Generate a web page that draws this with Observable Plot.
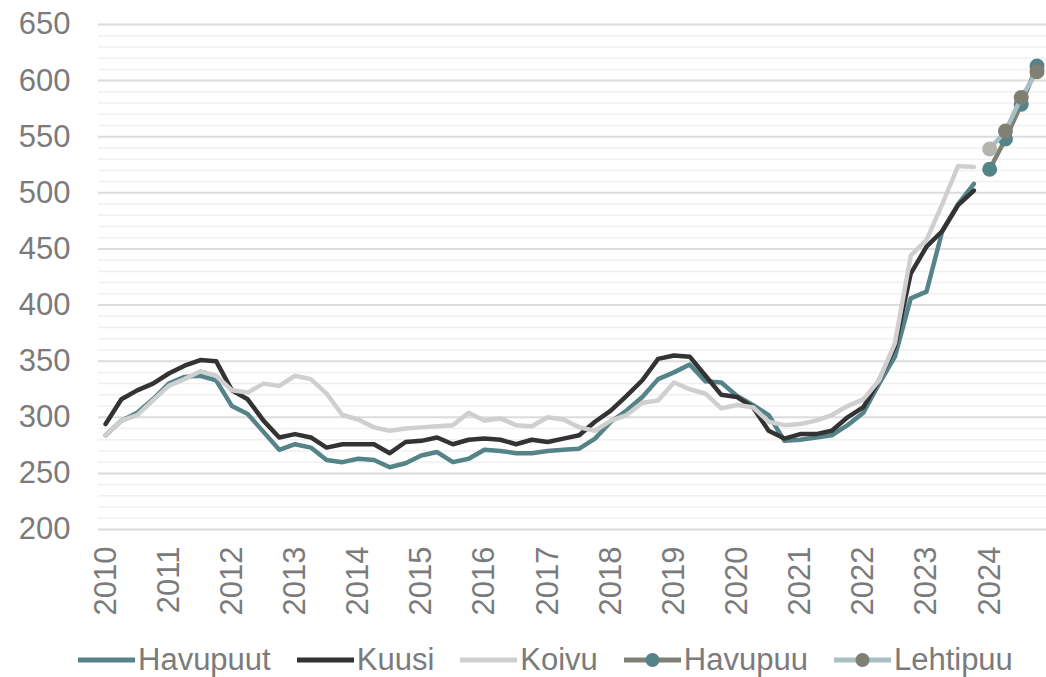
<!DOCTYPE html>
<html>
<head>
<meta charset="utf-8">
<script src="https://cdn.jsdelivr.net/npm/d3@7"></script>
<script src="https://cdn.jsdelivr.net/npm/@observablehq/plot@0.6"></script>
<style>
  body { margin: 0; background: #fff; font-family: "Liberation Sans", Arial, sans-serif; }
  #legend { display: flex; align-items: center; margin-left: 78px; height: 40px; font-size: 31px; color: #7b7b7b; }
  .item { display: flex; align-items: center; margin-right: 26px; }
  .item svg { margin-right: 3px; }
</style>
</head>
<body>
<div id="chart"></div>
<div id="legend"></div>
<script>
// Year tick labels (each at the first quarter of the year)
const years = [2010, 2011, 2012, 2013, 2014, 2015, 2016, 2017, 2018, 2019, 2020, 2021, 2022, 2023, 2024];

// Quarterly series 2010Q1 .. 2023Q4
const havupuut = [284, 297, 304, 316, 330, 336, 337, 333, 310, 303, 287, 271,
  276, 273, 262, 260, 263, 262, 255.5, 259, 266, 269, 260, 263,
  271, 270, 268, 268, 270, 271, 272, 281, 296, 306, 318, 334,
  340, 347, 332, 331, 319, 311, 302, 279, 280, 282, 284, 293,
  304, 330, 354, 406, 412, 466, 490, 508];
const kuusi = [294, 316, 324, 330, 339, 346, 351, 350, 324, 316, 297, 282,
  285, 282, 273, 276, 276, 276, 268, 278, 279, 282, 276, 280,
  281, 280, 276, 280, 278, 281, 284, 296, 306, 319, 333, 352,
  355, 354, 337, 320, 318, 309, 288, 281, 285, 285, 288, 300,
  309, 333, 363, 428, 452, 466, 489, 502];
const koivu = [284, 297, 302, 315, 328, 334, 341, 337, 324, 322, 330, 328,
  337, 334, 321, 302, 298, 291, 288, 290, 291, 292, 293, 304,
  297, 299, 293, 292, 300, 298, 291, 288, 297, 302, 313, 315,
  331, 325, 321, 308, 311, 309, 296, 293, 294, 297, 302, 310,
  316, 333, 366, 444, 458, 490, 524, 523];

// Forecast 2024Q1 .. 2024Q4
const havupuu = [521, 548, 579, 613];
const lehtipuu = [539, 555, 585, 608];

const majorTicks = [200, 250, 300, 350, 400, 450, 500, 550, 600, 650];
const minorTicks = d3.range(200, 651, 10).filter(v => v % 50 !== 0);

const toRows = (arr, start) => arr.map((v, i) => ({t: start + i, v}));
const hHist = toRows(havupuut, 0), kHist = toRows(kuusi, 0), bHist = toRows(koivu, 0);
const hFc = toRows(havupuu, 56), lFc = toRows(lehtipuu, 56);

const teal = "#548388", dark = "#333333", light = "#cfcfcf", olive = "#7f7f74", pale = "#a8bfc3";
const textColor = "#7b7b7b";
const sw = 4.5;

const chart = Plot.plot({
  width: 1046,
  height: 640,
  marginLeft: 98,
  marginRight: 0,
  marginTop: 24,
  marginBottom: 111,
  x: {domain: [-0.45, 59.6], axis: null, label: null},
  y: {domain: [200, 650], axis: null, label: null},
  style: {fontFamily: "'Liberation Sans', Arial, sans-serif", fontSize: "31px", color: textColor, background: "#fff"},
  marks: [
    Plot.ruleY(minorTicks, {stroke: "#f0f0f0", strokeWidth: 1.5}),
    Plot.ruleY(majorTicks, {stroke: "#dcdcdc", strokeWidth: 2}),
    Plot.axisY(majorTicks, {tickSize: 0, tickPadding: 28, fontSize: 31, fill: textColor, label: null}),
    Plot.axisX(years.map((y, i) => i * 4), {tickSize: 0, tickPadding: 17, tickRotate: -90, fontSize: 31, fill: textColor, label: null, tickFormat: d => String(years[d / 4])}),
    Plot.line(hHist, {x: "t", y: "v", stroke: teal, strokeWidth: sw, strokeLinejoin: "round"}),
    Plot.line(kHist, {x: "t", y: "v", stroke: dark, strokeWidth: sw, strokeLinejoin: "round"}),
    Plot.line(bHist, {x: "t", y: "v", stroke: light, strokeWidth: sw, strokeLinejoin: "round"}),
    Plot.line(hFc, {x: "t", y: "v", stroke: olive, strokeWidth: sw, strokeLinejoin: "round"}),
    Plot.dot(hFc, {x: "t", y: "v", r: 7.5, fill: teal, stroke: null}),
    Plot.line(lFc, {x: "t", y: "v", stroke: pale, strokeWidth: sw, strokeLinejoin: "round"}),
    Plot.dot(lFc.slice(0, 1), {x: "t", y: "v", r: 7.5, fill: "#b4b4ae", stroke: null}),
    Plot.dot(lFc.slice(1), {x: "t", y: "v", r: 7.5, fill: olive, stroke: null})
  ]
});
document.getElementById("chart").appendChild(chart);

const legendItems = [
  {name: "Havupuut", line: teal},
  {name: "Kuusi", line: dark},
  {name: "Koivu", line: light},
  {name: "Havupuu", line: olive, dot: teal},
  {name: "Lehtipuu", line: pale, dot: olive}
];
const legend = document.getElementById("legend");
for (const it of legendItems) {
  const div = document.createElement("div");
  div.className = "item";
  div.innerHTML = `<svg width="57" height="30"><line x1="0" x2="57" y1="15" y2="15" stroke="${it.line}" stroke-width="5" stroke-linecap="round"/>` +
    (it.dot ? `<circle cx="28.5" cy="15" r="7" fill="${it.dot}"/>` : "") + `</svg><span>${it.name}</span>`;
  legend.appendChild(div);
}
</script>
</body>
</html>
